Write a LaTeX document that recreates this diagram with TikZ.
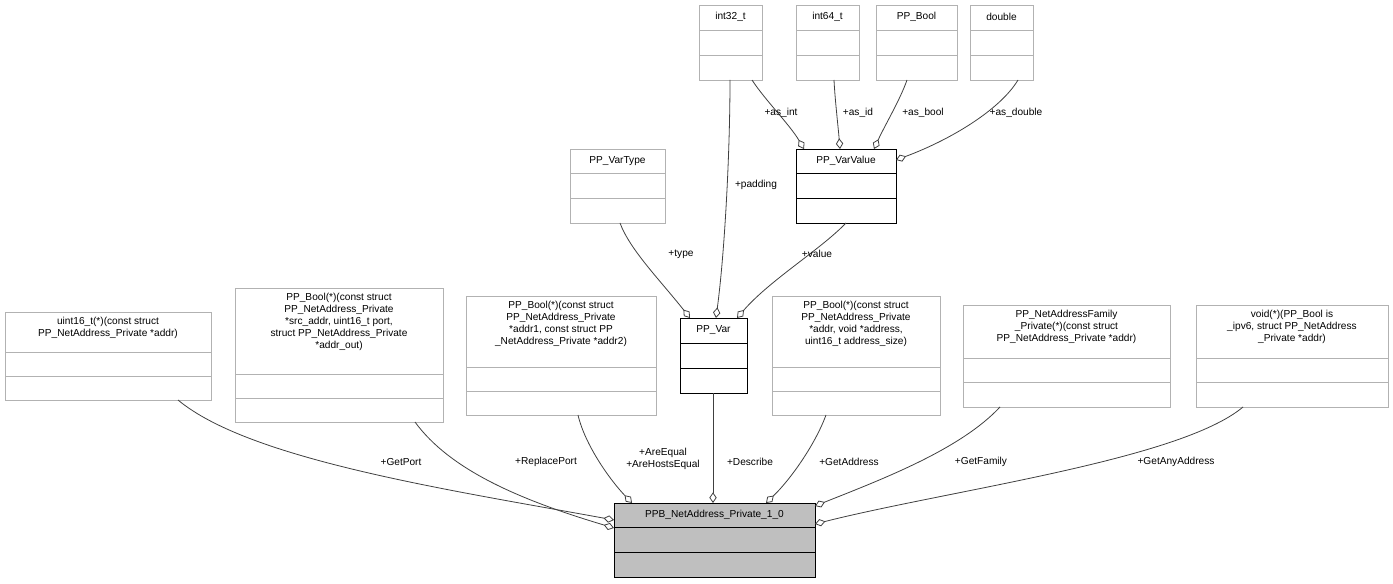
\documentclass[tikz,border=0pt]{standalone}
\usepackage{fontspec}
\setmainfont{Liberation Sans}
\usetikzlibrary{arrows.meta}

\definecolor{boxgray}{RGB}{191,191,191}
\definecolor{edgegray}{RGB}{64,64,64}
\definecolor{linegray}{RGB}{178,178,178}
\tikzset{
  lbl/.style={font=\fontsize{7.6}{9}\selectfont, inner sep=0.75pt},
  boxtxt/.style={lbl, align=center, anchor=north},
  edge/.style={draw=edgegray, line width=0.6pt,
    arrows={Diamond[open,length=8pt,width=5.5pt]-}},
}
% \umlbox{name}{x1}{y1}{x2}{y2}{div1}{div2}{colour}{fill}
\newcommand{\umlbox}[9]{%
  \draw[draw=#8, fill=#9, line width=0.6pt] (#2,#3) rectangle (#4,#5);
  \draw[draw=#8, line width=0.6pt] (#2,#6) -- (#4,#6) (#2,#7) -- (#4,#7);
  \coordinate (#1) at ({(#2+#4)/2},#3);}

\begin{document}
\begin{tikzpicture}[x=0.75pt,y=0.75pt,yscale=-1,xscale=1]
	\useasboundingbox (0,0) rectangle (1393,584);
	% classes
	\umlbox{ppb}{614}{503}{815}{577}{527}{552}{black}{boxgray}
	\node[lbl] (ppbT) at (714.5,515) {PPB\_NetAddress\_Private\_1\_0};
	\umlbox{getport}{5}{312}{211}{400}{352}{376}{linegray}{white}
	\node[boxtxt] (getportT) at (108,316) {uint16\_t(*)(const struct\\ PP\_NetAddress\_Private *addr)};
	\umlbox{replace}{235}{288}{443}{422}{374}{398}{linegray}{white}
	\node[boxtxt] (replaceT) at (339,292) {PP\_Bool(*)(const struct\\ PP\_NetAddress\_Private\\ *src\_addr, uint16\_t port,\\ struct PP\_NetAddress\_Private\\ *addr\_out)};
	\umlbox{equal}{466}{296}{656}{415}{367}{391}{linegray}{white}
	\node[boxtxt] (equalT) at (561,300) {PP\_Bool(*)(const struct\\ PP\_NetAddress\_Private\\ *addr1, const struct PP\\ \_NetAddress\_Private *addr2)};
	\umlbox{ppvar}{680}{318}{747}{393}{343}{368}{black}{white}
	\node[lbl] (ppvarT) at (713.5,330) {PP\_Var};
	\umlbox{getaddr}{772}{296}{940}{415}{367}{391}{linegray}{white}
	\node[boxtxt] (getaddrT) at (856,300) {PP\_Bool(*)(const struct\\ PP\_NetAddress\_Private\\ *addr, void *address,\\ uint16\_t address\_size)};
	\umlbox{family}{963}{305}{1170}{407}{358}{382}{linegray}{white}
	\node[boxtxt] (familyT) at (1066.5,309) {PP\_NetAddressFamily\\ \_Private(*)(const struct\\ PP\_NetAddress\_Private *addr)};
	\umlbox{anyaddr}{1196}{305}{1388}{407}{358}{382}{linegray}{white}
	\node[boxtxt] (anyaddrT) at (1292,309) {void(*)(PP\_Bool is\\ \_ipv6, struct PP\_NetAddress\\ \_Private *addr)};
	\umlbox{vartype}{570}{149}{665}{223}{173}{198}{linegray}{white}
	\node[lbl] (vartypeT) at (617.5,161) {PP\_VarType};
	\umlbox{varvalue}{796}{149}{896}{223}{173}{198}{black}{white}
	\node[lbl] (varvalueT) at (846,161) {PP\_VarValue};
	\umlbox{int32}{699}{5}{762}{80}{30}{55}{linegray}{white}
	\node[lbl] (int32T) at (730.5,17) {int32\_t};
	\umlbox{int64}{796}{5}{859}{80}{30}{55}{linegray}{white}
	\node[lbl] (int64T) at (827.5,17) {int64\_t};
	\umlbox{ppbool}{876}{5}{957}{80}{30}{55}{linegray}{white}
	\node[lbl] (ppboolT) at (916.5,17) {PP\_Bool};
	\umlbox{double}{970}{5}{1033}{80}{30}{55}{linegray}{white}
	\node[lbl] (doubleT) at (1001.5,17) {double};
	% relations
	\draw[edge] (614,520) .. controls (450,490) and (250,460) .. (178,400);
	\draw[edge] (614,528) .. controls (520,500) and (450,470) .. (415,422);
	\draw[edge] (632,503) .. controls (610,480) and (585,445) .. (578,415);
	\draw[edge] (713,503) -- (713,393);
	\draw[edge] (766,503) .. controls (790,480) and (815,445) .. (826,415);
	\draw[edge] (815,506) .. controls (880,480) and (960,450) .. (1000,407);
	\draw[edge] (815,524) .. controls (950,490) and (1180,460) .. (1243,407);
	\draw[edge] (690,318) .. controls (660,280) and (630,250) .. (620,223);
	\draw[edge] (716,318) .. controls (725,250) and (730,150) .. (730,80);
	\draw[edge] (737,318) .. controls (770,280) and (820,250) .. (846,223);
	\draw[edge] (804,149) .. controls (790,125) and (765,100) .. (752,80);
	\draw[edge] (840,149) .. controls (838,125) and (835,100) .. (834,80);
	\draw[edge] (874,149) .. controls (885,125) and (900,100) .. (907,80);
	\draw[edge] (896,160) .. controls (950,140) and (1000,110) .. (1018,80);
	% labels
	\node[lbl] (lGetPort) at (401,462) {+GetPort};
	\node[lbl] (lReplace) at (546,462) {+ReplacePort};
	\node[lbl, align=center] (lEqual) at (663,459) {+AreEqual\\+AreHostsEqual};
	\node[lbl] (lDescribe) at (750,462) {+Describe};
	\node[lbl] (lGetAddr) at (849,462) {+GetAddress};
	\node[lbl] (lFamily) at (981,462) {+GetFamily};
	\node[lbl] (lAny) at (1176,462) {+GetAnyAddress};
	\node[lbl] (lType) at (681,254) {+type};
	\node[lbl] (lPadding) at (756,185) {+padding};
	\node[lbl] (lValue) at (817,254) {+value};
	\node[lbl] (lInt) at (781,113) {+as\_int};
	\node[lbl] (lId) at (858,113) {+as\_id};
	\node[lbl] (lBool) at (923,113) {+as\_bool};
	\node[lbl] (lDouble) at (1016,113) {+as\_double};
\end{tikzpicture}
\end{document}
